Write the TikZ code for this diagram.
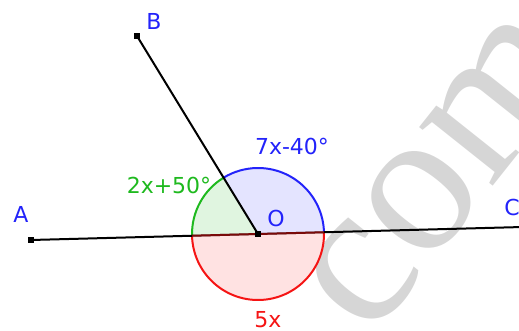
\documentclass[tikz,border=0pt]{standalone}
\usepackage{fontspec}
\setmainfont{DejaVu Sans}
\newfontfamily\wmfont{Liberation Serif}
\definecolor{gblue}{RGB}{35,35,250}
\definecolor{ggreen}{RGB}{30,185,30}
\definecolor{gred}{RGB}{245,20,20}
\definecolor{bluefill}{RGB}{228,228,255}
\definecolor{greenfill}{RGB}{224,245,224}
\definecolor{redfill}{RGB}{255,226,226}
\definecolor{wm}{RGB}{214,214,214}
\begin{document}
\begin{tikzpicture}[x=1pt,y=1pt,
  lbl/.style={inner sep=0pt, font=\fontsize{22}{22}\selectfont},
  ptmark/.style={fill=black, rectangle, minimum size=5.5pt, inner sep=0pt},
  seg/.style={line width=2pt, black},
  arcline/.style={line width=2pt}]
\useasboundingbox (0,0) rectangle (519,-331);
% watermark
\node[text=wm, rotate=51.5, font=\wmfont\fontsize{205}{205}\selectfont, inner sep=0pt] (wmark) at (443,-173) {com};
% points
\coordinate (O) at (258,-234);
\coordinate (A) at (31,-240);
\coordinate (B) at (137,-36);
\coordinate (Cend) at (519,-227.1);
% sectors
\fill[bluefill] (O) -- ++(1.5:66pt) arc[start angle=1.5, end angle=121.4, radius=66pt] -- cycle;
\fill[greenfill] (O) -- ++(121.4:66pt) arc[start angle=121.4, end angle=181.5, radius=66pt] -- cycle;
\fill[redfill] (O) -- ++(181.5:66pt) arc[start angle=181.5, end angle=361.5, radius=66pt] -- cycle;
\draw[arcline, gblue] (O) ++(1.5:66pt) arc[start angle=1.5, end angle=121.4, radius=66pt];
\draw[arcline, ggreen] (O) ++(121.4:66pt) arc[start angle=121.4, end angle=181.5, radius=66pt];
\draw[arcline, gred] (O) ++(181.5:66pt) arc[start angle=181.5, end angle=361.5, radius=66pt];
% lines
\draw[seg] (A) -- (Cend);
\draw[seg] (O) -- (B);
\draw[line width=2pt, gred, opacity=0.5] (O) ++(181.5:66pt) -- ++(1.5:132pt);
% point marks
\node[ptmark] (pA) at (A) {};
\node[ptmark] (pB) at (B) {};
\node[ptmark] (pO) at (O) {};
% labels
\node[lbl, text=gblue] (lA) at (21,-214) {A};
\node[lbl, text=gblue] (lB) at (154,-21) {B};
\node[lbl, text=gblue] (lC) at (512,-207) {C};
\node[lbl, text=gblue] (lO) at (276,-218) {O};
\node[lbl, text=gblue] (lb) at (292,-146) {7x-40°};
\node[lbl, text=ggreen] (lg) at (169,-185) {2x+50°};
\node[lbl, text=gred] (lr) at (268,-320) {5x};
\end{tikzpicture}
\end{document}
